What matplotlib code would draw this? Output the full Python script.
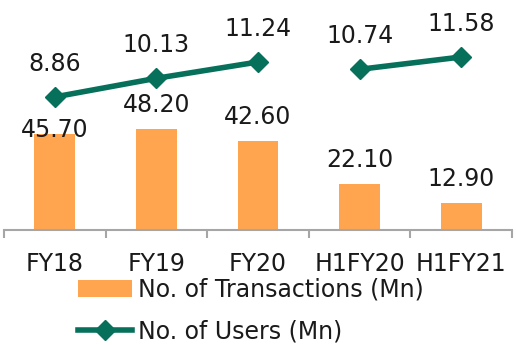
#!/usr/bin/env python3
import matplotlib
matplotlib.use("Agg")
import matplotlib.pyplot as plt
from matplotlib.lines import Line2D
from matplotlib.patches import Patch


categories = ["FY18", "FY19", "FY20", "H1FY20", "H1FY21"]
transactions = [45.70, 48.20, 42.60, 22.10, 12.90]
users = [8.86, 10.13, 11.24, 10.74, 11.58]
# the users line is broken between full years and half years
user_segments = [(0, 3), (3, 5)]

BAR_COLOR = "#FFA54F"
LINE_COLOR = "#07705B"
TEXT_COLOR = "#1A1A1A"
AXIS_COLOR = "#A6A6A6"
FONT = 17


def main():
    plt.rcParams["font.family"] = ["DejaVu Sans"]

    fig = plt.figure(figsize=(5.16, 3.45), dpi=100)
    ax = fig.add_axes([4 / 516, 1 - 230 / 345, 508 / 516, 230 / 345])
    ax2 = ax.twinx()

    xs = list(range(len(categories)))
    ax.bar(xs, transactions, width=0.4, color=BAR_COLOR, zorder=2)
    ax.set_xlim(-0.5, len(categories) - 0.5)
    ax.set_ylim(0, 109.5)

    for i, v in enumerate(transactions):
        # first label sits lower in the original, tucked under the line
        dy = -2 if i == 0 else 12
        ax.annotate(f"{v:.2f}", (i, v), xytext=(0, dy), textcoords="offset points",
                    ha="center", va="baseline", fontsize=FONT, color=TEXT_COLOR)

    for a, b in user_segments:
        ax2.plot(xs[a:b], users[a:b], color=LINE_COLOR, linewidth=4,
                 marker="D", markersize=10, zorder=3)
    ax2.set_ylim(-0.2, 15.46)

    for i, v in enumerate(users):
        ax2.annotate(f"{v:.2f}", (i, v), xytext=(0, 19), textcoords="offset points",
                     ha="center", va="baseline", fontsize=FONT, color=TEXT_COLOR)

    for a in (ax, ax2):
        for side in ("top", "left", "right"):
            a.spines[side].set_visible(False)
        a.set_yticks([])
    ax2.spines["bottom"].set_visible(False)
    ax.spines["bottom"].set_color(AXIS_COLOR)
    ax.spines["bottom"].set_linewidth(1.5)

    ax.set_xticks(xs)
    ax.set_xticklabels(categories, fontsize=FONT, color=TEXT_COLOR)
    ax.set_xticks([x - 0.5 for x in range(len(categories) + 1)], minor=True)
    ax.tick_params(axis="x", which="major", length=0, pad=16)
    ax.tick_params(axis="x", which="minor", length=6, width=1.5, color=AXIS_COLOR)

    handles = [
        Patch(facecolor=BAR_COLOR, edgecolor="none"),
        Line2D([], [], color=LINE_COLOR, linewidth=4, marker="D", markersize=10),
    ]
    labels = ["No. of Transactions (Mn)", "No. of Users (Mn)"]
    fig.legend(handles, labels, loc="upper left", bbox_to_anchor=(78 / 516, 1 - 278 / 345),
               frameon=False, fontsize=FONT, handlelength=2.3, handleheight=0.7,
               handletextpad=0.25, labelspacing=0.75, borderpad=0, borderaxespad=0,
               labelcolor=TEXT_COLOR)

    fig.savefig("out.png", dpi=100)


if __name__ == "__main__":
    main()
